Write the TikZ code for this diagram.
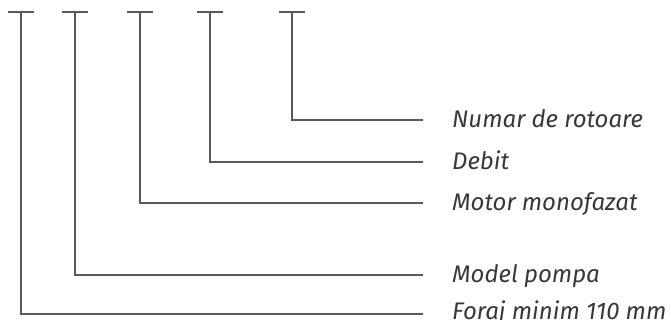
\documentclass[tikz,border=0pt]{standalone}
\usepackage{fontspec}
\setmainfont{Fira Sans}
\begin{document}
\begin{tikzpicture}[x=1pt,y=-1pt,
  lead/.style={draw=black!65, line width=1.1pt},
  lab/.style={anchor=base west, inner sep=0pt, text=black!78,
    font=\fontsize{24}{28}\selectfont\itshape}]
\useasboundingbox (0,0) rectangle (671,320);
% labels
\node[lab] (l1) at (452,128) {Numar de rotoare};
\node[lab] (l2) at (452,170) {Debit};
\node[lab] (l3) at (452,211) {Motor monofazat};
\node[lab] (l4) at (452,282) {Model pompa};
\node[lab] (l5) at (452,319) {Foraj minim 110 mm};
% tops
\coordinate (t1) at (292,12);
\coordinate (t2) at (210,12);
\coordinate (t3) at (140,12);
\coordinate (t4) at (75,12);
\coordinate (t5) at (21,12);
\coordinate (e1) at (423,120);
\coordinate (e2) at (423,162);
\coordinate (e3) at (423,203);
\coordinate (e4) at (423,275);
\coordinate (e5) at (423,314);
\foreach \i in {1,...,5}{
  \draw[lead] ([xshift=-13pt]t\i) -- ([xshift=13pt]t\i);
  \draw[lead] (t\i) |- (e\i);
}
\end{tikzpicture}
\end{document}
